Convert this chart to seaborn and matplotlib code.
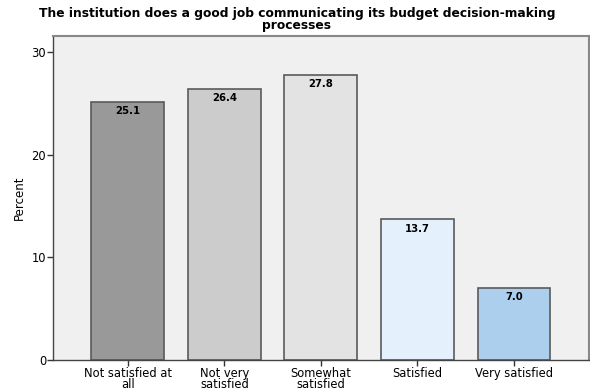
import pandas as pd
import matplotlib
matplotlib.use('Agg')
import matplotlib.pyplot as plt
import seaborn as sns

# Datos
categorias = ['Not satisfied at\nall', 'Not very\nsatisfied', 'Somewhat\nsatisfied',
              'Satisfied', 'Very satisfied']
porcentajes = [25.1, 26.4, 27.8, 13.7, 7.0]
colores = ['#999999', '#cccccc', '#e3e3e3', '#e4f0fb', '#abcfed']

df = pd.DataFrame({'categoria': categorias, 'porcentaje': porcentajes})

sns.set_style('white')
plt.rcParams['font.family'] = ['DejaVu Sans']

fig = plt.figure(figsize=(5.9, 3.92), dpi=100)
ax = fig.add_axes([0.0898, 0.0816, 0.9082, 0.8264])
ax.set_facecolor('#f0f0f0')

sns.barplot(data=df, x='categoria', y='porcentaje', hue='categoria', palette=colores,
            saturation=1, legend=False, width=0.755, edgecolor='#5a5a5a',
            linewidth=1.2, ax=ax)

# Etiquetas de valor dentro de la barra
for i, v in enumerate(porcentajes):
    ax.annotate(f'{v:.1f}', (i, v), xytext=(0, -3), textcoords='offset points',
                ha='center', va='top', fontsize=7.3, fontweight='bold', color='black')

ax.set_xlim(-0.775, 4.775)
ax.set_ylim(0, 31.55)
ax.set_yticks([0, 10, 20, 30])
ax.set_xlabel('')
ax.set_ylabel('Percent', fontsize=8.5, color='black')
ax.tick_params(axis='both', labelsize=8.3, length=4, width=1, color='#333333',
               labelcolor='black', direction='out', pad=1)
ax.tick_params(axis='y', left=True)
ax.tick_params(axis='x', bottom=True)
for lbl in ax.get_xticklabels():
    lbl.set_linespacing(0.85)

for s in ['top', 'right']:
    ax.spines[s].set_color('#888888')
    ax.spines[s].set_linewidth(1.5)
for s in ['left', 'bottom']:
    ax.spines[s].set_color('#444444')
    ax.spines[s].set_linewidth(1.0)

fig.suptitle('The institution does a good job communicating its budget decision-making\nprocesses',
             x=0.503, y=0.983, fontsize=8.8, fontweight='bold', linespacing=0.9, color='black')

fig.savefig('out.png', dpi=100)
